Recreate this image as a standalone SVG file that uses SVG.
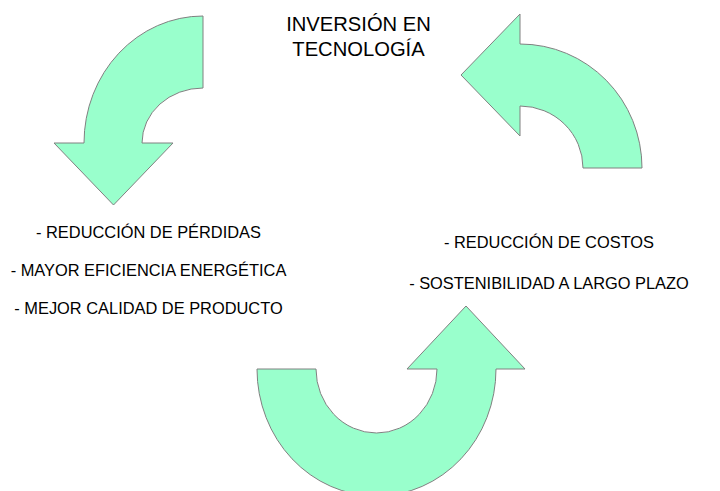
<svg xmlns="http://www.w3.org/2000/svg" width="720" height="491" viewBox="0 0 720 491">
<style>
.arrow{fill:#99ffcc;stroke:#808080;stroke-width:1;stroke-linejoin:miter}
.t{font-family:"Liberation Sans",Arial,sans-serif;fill:#000;text-anchor:middle}
.title{font-size:20.2px}
.lbl{font-size:16.4px}
</style>
<rect width="720" height="491" fill="#ffffff"/>
<g id="connectors">
<path id="arrow-left" class="arrow" d="M203,16 A119,127 0 0 0 84,143 L54,143 L113.5,205 L173,143 L142,143 A61,55 0 0 1 203,88 Z"/>
<path id="arrow-right" class="arrow" d="M642,168 A122,124 0 0 0 520,44 L520,14 L461,75 L520,136 L520,106 A63,62 0 0 1 583,168 Z"/>
<path id="arrow-bottom" class="arrow" d="M257,369 A119.5,127 0 0 0 496,369 L525,369 L466,306 L407,369 L437,369 A60.5,64 0 0 1 316,369 Z"/>
</g>
<g id="node-title">
<text class="t title" x="358.5" y="31">INVERSIÓN EN</text>
<text class="t title" x="358.5" y="56">TECNOLOGÍA</text>
</g>
<g id="node-left">
<text class="t lbl" x="148.5" y="238">- REDUCCIÓN DE PÉRDIDAS</text>
<text class="t lbl" x="148.5" y="276">- MAYOR EFICIENCIA ENERGÉTICA</text>
<text class="t lbl" x="148.5" y="314">- MEJOR CALIDAD DE PRODUCTO</text>
</g>
<g id="node-right">
<text class="t lbl" x="549" y="248">- REDUCCIÓN DE COSTOS</text>
<text class="t lbl" x="549" y="289">- SOSTENIBILIDAD A LARGO PLAZO</text>
</g>
</svg>
